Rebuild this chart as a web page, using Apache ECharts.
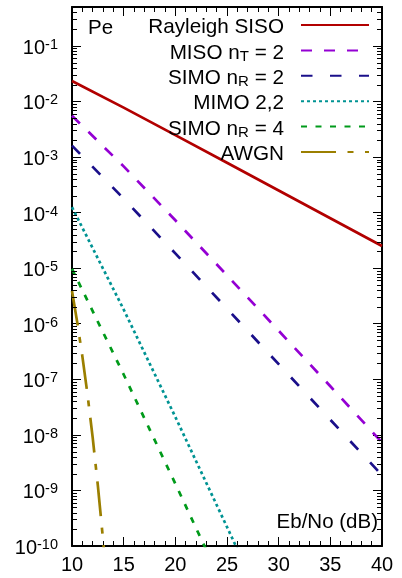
<!DOCTYPE html>
<html><head><meta charset="utf-8">
<script src="https://cdn.jsdelivr.net/npm/echarts@6/dist/echarts.min.js"></script>
<style>html,body{margin:0;padding:0;background:#fff}#c{width:402px;height:578px}</style>
</head><body><div id="c"></div>
<script>
// ---- data (Eb/No in dB, error probability) ----
const snrDb = [10, 15, 20, 25, 30, 35, 40];
const rayleighSiso = [2.33e-2, 7.72e-3, 2.48e-3, 7.89e-4, 2.50e-4, 7.91e-5, 2.50e-5];
const misoNt2 = [5.53e-3, 6.77e-4, 7.26e-5, 7.42e-6, 7.48e-7, 7.49e-8, 7.30e-9];
const simoNr2 = [1.60e-3, 1.78e-4, 1.84e-5, 1.87e-6, 1.87e-7, 1.87e-8, 1.88e-9];
const mimo22Snr = [10, 15, 20, 25, 30];
const mimo22 = [1.25e-4, 1.8e-6, 2.1e-8, 2.2e-10, 2.2e-12];
const simoNr4Snr = [10, 15, 20, 25];
const simoNr4 = [9.7e-6, 1.22e-7, 1.32e-9, 1.35e-11];
const awgnSnr = [10, 10.5, 11, 11.5, 12, 12.5, 13, 13.5];
const awgn = [3.87e-6, 1.08e-6, 2.61e-7, 5.33e-8, 9.0e-9, 1.23e-9, 1.33e-10, 1.1e-11];

const seriesNames = ['Rayleigh SISO', 'MISO nT = 2', 'SIMO nR = 2', 'MIMO 2,2', 'SIMO nR = 4', 'AWGN'];
const legendLabels = ['{s| }Rayleigh SISO', 'MISO n{s|T} = 2', 'SIMO n{s|R} = 2', '{s| }MIMO 2,2', 'SIMO n{s|R} = 4', '{s| }AWGN'];
const xMin = 10, xMax = 40, xStep = 5;
const yMin = 1e-10, yMax = 0.5;
const xAxisName = 'Eb/No (dB)';
const yAxisName = 'Pe';

const FF = '"Liberation Sans", Arial, Helvetica, sans-serif';
const colors = ['#b20000', '#9400d3', '#1a0f8a', '#009393', '#009a1a', '#9b7f00'];
const dashes = ['solid', [11, 12], [11.5, 17.5], [3, 3], [6, 8.5], [35, 11.5, 6, 11.5]];

function pairs(xs, ys) { return xs.map((x, i) => [x, ys[i]]); }
const seriesData = [
  pairs(snrDb, rayleighSiso), pairs(snrDb, misoNt2), pairs(snrDb, simoNr2),
  pairs(mimo22Snr, mimo22), pairs(simoNr4Snr, simoNr4), pairs(awgnSnr, awgn)
];

// minor ticks of the log axis (2..9 x 10^n)
const minorTickVals = [];
for (let e = -10; e <= -1; e++) for (let k = 2; k <= 9; k++) {
  const v = k * Math.pow(10, e);
  if (v <= yMax * 1.0001) minorTickVals.push([xMin, v]);
}

const chart = echarts.init(document.getElementById('c'), null, {renderer: 'canvas'});
const axisLineStyle = {color: '#000', width: 2};
const tickStyle = {color: '#000', width: 1};

const xCommon = {
  type: 'value', min: xMin, max: xMax, interval: xStep,
  axisLine: {show: true, onZero: false, lineStyle: axisLineStyle},
  axisTick: {show: true, inside: true, length: 9, lineStyle: tickStyle},
  minorTick: {show: true, splitNumber: 5, length: 5, lineStyle: tickStyle},
  splitLine: {show: false}
};
const yCommon = {
  type: 'log', logBase: 10, min: yMin, max: yMax, splitNumber: 10,
  axisLine: {show: true, onZero: false, lineStyle: axisLineStyle},
  axisTick: {show: true, inside: true, length: 9, lineStyle: tickStyle},
  minorTick: {show: false},
  splitLine: {show: false}
};

const series = seriesNames.map((name, i) => ({
  name, type: 'line', data: seriesData[i], xAxisIndex: 0, yAxisIndex: 0,
  symbol: 'none', showSymbol: false, clip: true, z: 3 + (seriesNames.length - i) / 10,
  color: colors[i],
  lineStyle: {color: colors[i], width: 2.7, type: dashes[i], cap: 'butt'}
}));
series.push({
  type: 'custom', name: 'minorTicks', coordinateSystem: 'cartesian2d', xAxisIndex: 0, yAxisIndex: 0,
  silent: true, clip: false, z: 6, data: minorTickVals, encode: {x: 0, y: 1},
  renderItem: function (params, api) {
    const v = api.value(1);
    const l = api.coord([xMin, v]);
    const r = api.coord([xMax, v]);
    const y = Math.round(l[1]) + 0.5;
    return {type: 'group', children: [
      {type: 'line', shape: {x1: l[0], y1: y, x2: l[0] + 5, y2: y}, style: {stroke: '#000', lineWidth: 1}},
      {type: 'line', shape: {x1: r[0] - 5, y1: y, x2: r[0], y2: y}, style: {stroke: '#000', lineWidth: 1}}
    ]};
  }
});

chart.setOption({
  animation: false,
  backgroundColor: '#fff',
  grid: {left: 72, right: 20, top: 7, bottom: 32, containLabel: false},
  xAxis: [
    Object.assign({}, xCommon, {
      position: 'bottom',
      axisLabel: {show: true, fontSize: 20, color: '#000', fontFamily: FF, margin: 9},
      name: xAxisName, nameLocation: 'end', nameGap: -4,
      nameTextStyle: {fontSize: 20.5, color: '#000', fontFamily: FF, align: 'right', verticalAlign: 'bottom', padding: [0, 0, 13, 0]}
    }),
    Object.assign({}, xCommon, {position: 'top', axisLabel: {show: false}})
  ],
  yAxis: [
    Object.assign({}, yCommon, {
      position: 'left',
      axisLabel: {
        show: true, fontSize: 20, lineHeight: 22, color: '#000', fontFamily: FF, margin: 14,
        padding: [5, 0, 0, 0],
        formatter: function (v) {
          const e = Math.log10(v);
          const r = Math.round(e);
          if (Math.abs(e - r) > 1e-6) return '';
          return '10{p|' + r + '}';
        },
        rich: {p: {fontSize: 14.5, lineHeight: 14, fontFamily: FF, color: '#000', verticalAlign: 'top', padding: [0, 0, 14, 0]}}
      },
      name: yAxisName, nameLocation: 'end', nameGap: -21,
      nameTextStyle: {fontSize: 20.5, color: '#000', fontFamily: FF, align: 'left', verticalAlign: 'middle', padding: [0, 0, 0, 16]}
    }),
    Object.assign({}, yCommon, {position: 'right', axisLabel: {show: false}})
  ],
  legend: {
    data: seriesNames, orient: 'vertical', align: 'right', right: 32, top: 5.5,
    padding: 0, itemWidth: 68, itemHeight: 14, itemGap: -7.6, selectedMode: false,
    itemStyle: {color: 'rgba(0,0,0,0)', borderColor: 'rgba(0,0,0,0)', borderWidth: 0, opacity: 0},
    formatter: function (name) { return legendLabels[seriesNames.indexOf(name)]; },
    textStyle: {
      fontSize: 20.7, lineHeight: 22, color: '#000', fontFamily: FF, padding: [5, 12, 0, 0],
      rich: {s: {fontSize: 15, lineHeight: 14, fontFamily: FF, color: '#000', verticalAlign: 'bottom', padding: [18, 0, 0, 0]}}
    }
  },
  series: series
});
</script></body></html>
